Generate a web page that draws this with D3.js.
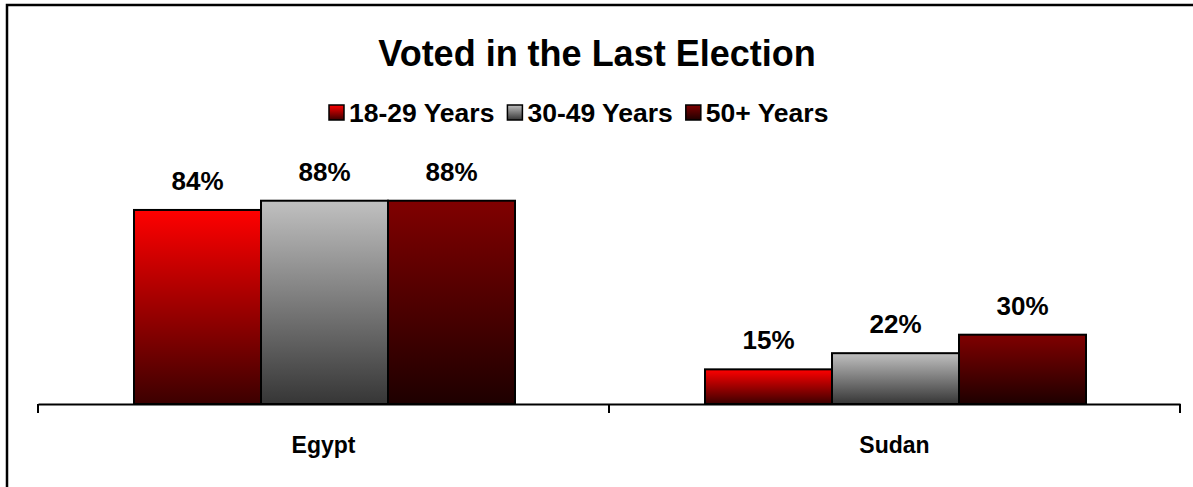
<!DOCTYPE html>
<html><head><meta charset="utf-8">
<script src="https://cdn.jsdelivr.net/npm/d3@7"></script>
<style>body{margin:0;background:#fff;}svg{display:block;font-family:"Liberation Sans",Arial,sans-serif;}</style>
</head><body>
<svg id="c" width="1193" height="487"></svg>
<script>
const categories = ["Egypt", "Sudan"];
const seriesNames = ["18-29 Years", "30-49 Years", "50+ Years"];
const values18 = [84, 15];
const values30 = [88, 22];
const values50 = [88, 30];
const title = "Voted in the Last Election";

const series = [
  {name: seriesNames[0], values: values18, top: "#ff0000", bottom: "#3c0000"},
  {name: seriesNames[1], values: values30, top: "#c0c0c0", bottom: "#363636"},
  {name: seriesNames[2], values: values50, top: "#800000", bottom: "#1e0000"}
];

const svg = d3.select("#c");
const defs = svg.append("defs");
series.forEach((s, i) => {
  const g = defs.append("linearGradient").attr("id", "g" + i)
    .attr("x1", 0).attr("y1", 0).attr("x2", 0).attr("y2", 1);
  g.append("stop").attr("offset", "0%").attr("stop-color", s.top);
  g.append("stop").attr("offset", "100%").attr("stop-color", s.bottom);
});

// outer border
svg.append("rect").attr("x", 7).attr("y", 5).attr("width", 1200).attr("height", 600)
  .attr("fill", "none").attr("stroke", "#000").attr("stroke-width", 2.5);

const left = 38, right = 1180, base = 404;
const x0 = d3.scaleBand().domain(categories).range([left, right]).paddingInner(0).paddingOuter(0);
const x1 = d3.scaleBand().domain(seriesNames).range([96, x0.bandwidth() - 94]);
const y = d3.scaleLinear().domain([0, 100]).range([base, 173]);

// title
svg.append("text").attr("x", 597).attr("y", 66).attr("text-anchor", "middle")
  .attr("font-size", 36).attr("font-weight", "bold").text(title);

// legend (laid out from measured text widths)
const lg = svg.append("g");
let lx = 329;
series.forEach((s, i) => {
  lg.append("rect").attr("x", lx).attr("y", 105).attr("width", 15).attr("height", 15)
    .attr("fill", `url(#g${i})`).attr("stroke", "#000").attr("stroke-width", 1.5);
  const t = lg.append("text").attr("x", lx + 20).attr("y", 122).attr("font-size", 26.5)
    .attr("font-weight", "bold").text(s.name);
  lx += 20 + t.node().getComputedTextLength() + 13;
});

// bars
series.forEach((s, i) => {
  const g = svg.append("g");
  g.selectAll("rect").data(categories).join("rect")
    .attr("x", c => x0(c) + x1(s.name))
    .attr("y", (c, j) => y(s.values[j]))
    .attr("width", x1.bandwidth())
    .attr("height", (c, j) => base - y(s.values[j]))
    .attr("fill", `url(#g${i})`).attr("stroke", "#000").attr("stroke-width", 2);
  g.selectAll("text").data(categories).join("text")
    .attr("x", c => x0(c) + x1(s.name) + x1.bandwidth() / 2)
    .attr("y", (c, j) => y(s.values[j]) - 20)
    .attr("text-anchor", "middle").attr("font-size", 26).attr("font-weight", "bold")
    .text((c, j) => s.values[j] + "%");
});

// axis
const axis = d3.axisBottom(x0).tickSize(0).tickPadding(0).tickFormat("");
const ag = svg.append("g").attr("transform", `translate(0,${base})`).call(axis);
ag.select(".domain").attr("stroke", "#000").attr("stroke-width", 2);
const tickPos = [left, ...categories.map(c => x0(c) + x0.bandwidth())];
ag.selectAll(".tk").data(tickPos).join("line").attr("class", "tk")
  .attr("x1", d => d).attr("x2", d => d).attr("y1", 0).attr("y2", 9)
  .attr("stroke", "#000").attr("stroke-width", 2);
ag.selectAll(".cl").data(categories).join("text").attr("class", "cl")
  .attr("x", c => x0(c) + x0.bandwidth() / 2).attr("y", 49)
  .attr("text-anchor", "middle").attr("font-size", 23).attr("font-weight", "bold")
  .attr("fill", "#000").text(c => c);
</script>
</body></html>
